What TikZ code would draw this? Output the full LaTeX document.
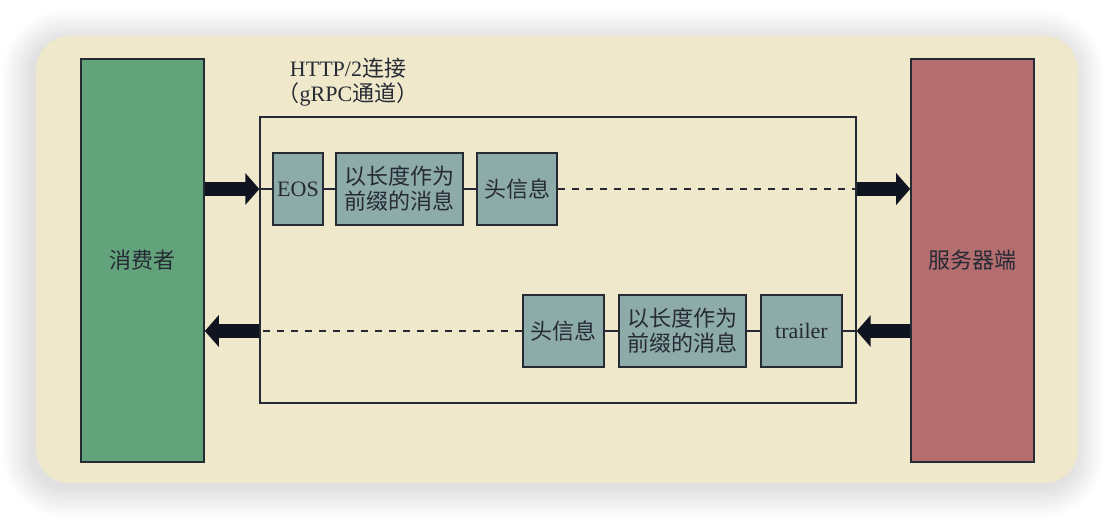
\documentclass[tikz,border=0pt]{standalone}
\usepackage{fontspec}
\setmainfont{Liberation Serif}
\newfontfamily\cjk{Noto Sans CJK SC}
\usetikzlibrary{arrows.meta}

\definecolor{panel}{HTML}{EFE8CA}
\definecolor{consumer}{HTML}{62A37B}
\definecolor{server}{HTML}{B56E70}
\definecolor{frame}{HTML}{8DABA9}
\definecolor{ink}{HTML}{262A35}
\definecolor{arrowink}{HTML}{0F1420}

\tikzset{
  txt/.style={font=\fontsize{22}{25}\selectfont, text=ink},
  party/.style={txt, draw=ink, line width=1.6pt, minimum width=123pt, minimum height=403pt, inner sep=0pt},
  chunk/.style={txt, draw=ink, line width=1.3pt, fill=frame, minimum height=72pt, inner sep=0pt, align=center},
  link/.style={draw=ink, line width=1.2pt},
  dashlink/.style={link, dash pattern=on 7pt off 7pt},
  bigarrow/.style={draw=arrowink, line width=14pt, -{Triangle[length=14pt,width=31pt]}},
}

\begin{document}
\begin{tikzpicture}[x=1pt,y=-1pt]
  \useasboundingbox (0,0) rectangle (1114,520);
  \fill[white] (0,0) rectangle (1114,520);

  % soft shadow: stacked translucent rounded rectangles
  \foreach \i in {1,...,30}{
    \fill[black, opacity=0.0055, rounded corners={34pt+\i pt}]
      ({32-\i},{40-\i}) rectangle ({1075+\i},{488+\i});
  }

  % rounded backdrop panel
  \fill[panel, rounded corners=34pt] (36,36) rectangle (1078,483);

  % the two endpoints
  \node[party, fill=consumer] (cons) at (142.5,260.5) {\cjk 消费者};
  \node[party, fill=server]   (srv)  at (972.5,260.5) {\cjk 服务器端};

  % the HTTP/2 connection
  \node[draw=ink, line width=1.3pt, minimum width=596pt, minimum height=286pt, inner sep=0pt] (chan) at (558,260) {};
  \node[txt, align=center] (title) at (348,82) {HTTP/2{\cjk 连接}\\{\cjk （}gRPC{\cjk 通道）}};

  % request stream (consumer -> server)
  \node[chunk, minimum width=50pt]  (eos)  at (298,189)   {EOS};
  \node[chunk, minimum width=127pt] (msga) at (399.5,189) {\cjk 以长度作为\\\cjk 前缀的消息};
  \node[chunk, minimum width=80pt]  (hdra) at (517,189)   {\cjk 头信息};

  % response stream (server -> consumer)
  \node[chunk, minimum width=81pt]  (hdrb) at (563.5,331) {\cjk 头信息};
  \node[chunk, minimum width=127pt] (msgb) at (682.5,331) {\cjk 以长度作为\\\cjk 前缀的消息};
  \node[chunk, minimum width=81pt]  (trl)  at (801.5,331) {trailer};

  % links inside the channel
  \draw[link] (chan.west |- eos) -- (eos.west);
  \draw[link] (eos.east) -- (msga.west);
  \draw[link] (msga.east) -- (hdra.west);
  \draw[dashlink] (hdra.east) -- (chan.east |- hdra);

  \draw[link] (chan.east |- trl) -- (trl.east);
  \draw[link] (trl.west) -- (msgb.east);
  \draw[link] (msgb.west) -- (hdrb.east);
  \draw[dashlink] (hdrb.west) -- (chan.west |- hdrb);

  % heavy arrows across the channel boundary
  \draw[bigarrow] (cons.east |- eos) -- (chan.west |- eos);
  \draw[bigarrow] (chan.east |- hdra) -- (srv.west |- hdra);
  \draw[bigarrow] (srv.west |- trl) -- (chan.east |- trl);
  \draw[bigarrow] (chan.west |- hdrb) -- (cons.east |- hdrb);
\end{tikzpicture}
\end{document}
